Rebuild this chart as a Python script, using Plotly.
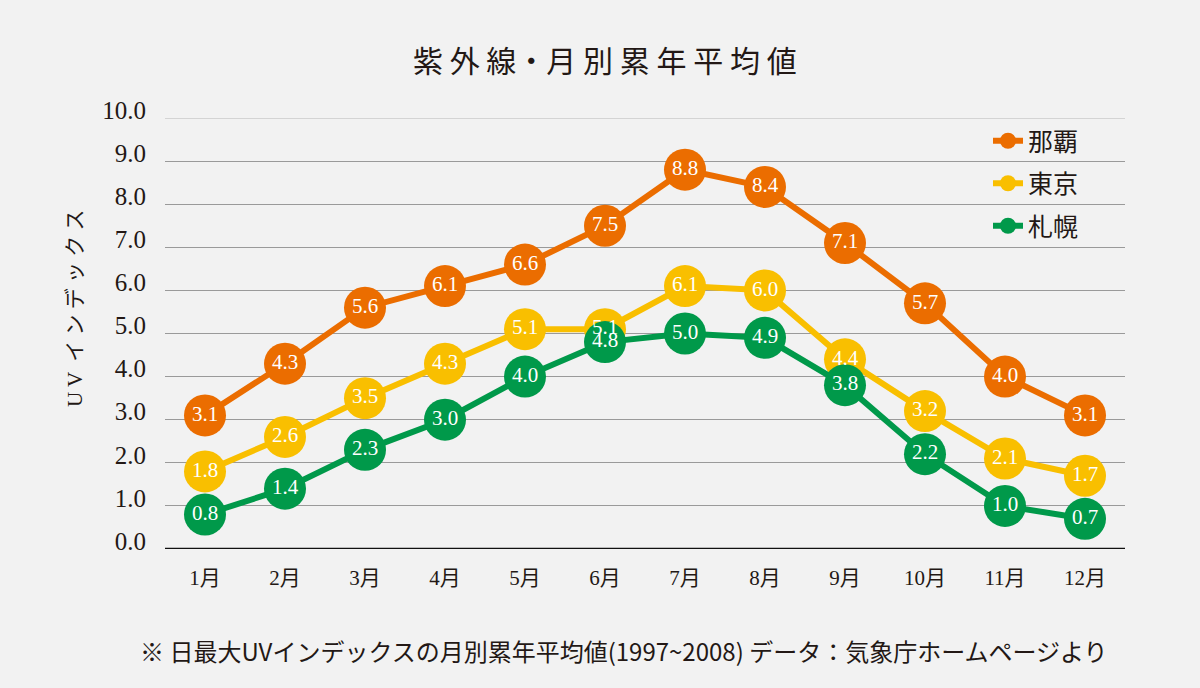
import plotly.graph_objects as go

months = ["1月", "2月", "3月", "4月", "5月", "6月", "7月", "8月", "9月", "10月", "11月", "12月"]
naha = [3.1, 4.3, 5.6, 6.1, 6.6, 7.5, 8.8, 8.4, 7.1, 5.7, 4.0, 3.1]
tokyo = [1.8, 2.6, 3.5, 4.3, 5.1, 5.1, 6.1, 6.0, 4.4, 3.2, 2.1, 1.7]
sapporo = [0.8, 1.4, 2.3, 3.0, 4.0, 4.8, 5.0, 4.9, 3.8, 2.2, 1.0, 0.7]
series_names = ["那覇", "東京", "札幌"]
y_ticks = [0, 1, 2, 3, 4, 5, 6, 7, 8, 9, 10]

colors = ["#eb6d00", "#f9bf00", "#00994a"]
SERIF = "Liberation Serif, Noto Sans CJK JP, serif"
CJK = "Noto Sans CJK JP, sans-serif"
TXT = "#231815"

fig = go.Figure()
all_series = [naha, tokyo, sapporo]
for i, (name, vals) in enumerate(zip(series_names, all_series)):
    fig.add_trace(go.Scatter(
        x=months, y=vals, name=name, mode="lines+markers",
        line=dict(color=colors[i], width=6),
        marker=dict(color=colors[i], size=42, line=dict(width=0)),
        legendgroup=name, hoverinfo="skip",
    ))
for i, (name, vals) in enumerate(zip(series_names, all_series)):
    fig.add_trace(go.Scatter(
        x=months, y=vals, mode="text", showlegend=False,
        text=[f"{v:.1f}" for v in vals], textposition="middle center",
        textfont=dict(family=SERIF, size=21, color="white"),
        hoverinfo="skip",
    ))

fig.update_layout(
    width=1200, height=688,
    paper_bgcolor="#f2f2f2", plot_bgcolor="#f2f2f2",
    margin=dict(l=165, r=75, t=118, b=139),
    title=dict(text="紫 外 線・月 別 累 年 平 均 値", x=0.504, xanchor="center",
               y=1 - 61 / 688, yanchor="middle", yref="container",
               font=dict(family=CJK, size=30, color=TXT)),
    showlegend=True,
    legend=dict(x=(988 - 165) / 960, y=1.0, yanchor="top", xanchor="left",
                bgcolor="rgba(0,0,0,0)",
                font=dict(family=CJK, size=25, color=TXT),
                traceorder="grouped", tracegroupgap=7, itemsizing="trace"),
    xaxis=dict(type="category", range=[-0.5, 11.5], showgrid=False, zeroline=False,
               showline=False, ticks="", tickfont=dict(family=SERIF, size=21, color=TXT),
               ticklabelstandoff=14),
    yaxis=dict(range=[0, 10], tickvals=y_ticks, ticktext=[f"{v:.1f}" for v in y_ticks],
               showgrid=True, gridcolor="#9a9a9a", gridwidth=1, zeroline=False,
               showline=False, ticks="", ticklabelstandoff=18, ticklabelshift=-8,
               tickfont=dict(family=SERIF, size=25, color=TXT)),
    annotations=[
        dict(text="※ 日最大UVインデックスの月別累年平均値(1997~2008) データ：気象庁ホームページより",
             x=(623 - 165) / 960, xref="paper", y=(549 - 650) / 431, yref="paper",
             xanchor="center", yanchor="middle", showarrow=False,
             font=dict(family=CJK, size=24, color=TXT)),
        dict(text="U V  イ ン デ ッ ク ス", textangle=-90,
             x=(75 - 165) / 960, xref="paper", y=(549 - 308) / 431, yref="paper",
             xanchor="center", yanchor="middle", showarrow=False,
             font=dict(family=SERIF, size=21, color=TXT)),
    ],
    shapes=[
        dict(type="line", xref="paper", yref="y", x0=0, x1=1, y0=10, y1=10,
             line=dict(color="#b5b5b5", width=1), layer="below"),
        dict(type="line", xref="paper", yref="y", x0=0, x1=1, y0=0, y1=0,
             line=dict(color="#111111", width=2.5), layer="below"),
    ],
)

fig.write_html("out.html", config={"displayModeBar": False},
               post_script="document.body.style.margin='0';")
